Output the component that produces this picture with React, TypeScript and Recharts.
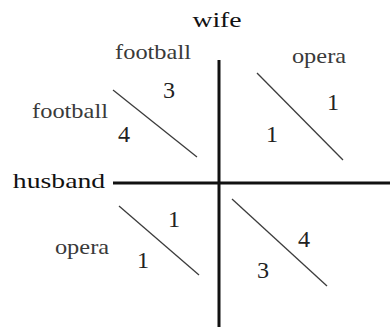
import { ReferenceLine, Scatter, ScatterChart, XAxis, YAxis } from "recharts";

// diagram coordinates: origin where the husband / wife axes cross, y up
const axisSegments = [
  { id: "wife", from: { x: 0, y: 123 }, to: { x: 0, y: -144 } },
  { id: "husband", from: { x: -106, y: 0 }, to: { x: 171, y: 0 } },
];

const cellDiagonals = [
  { id: "ff", from: { x: -106, y: 93 }, to: { x: -22, y: 26 } },
  { id: "fo", from: { x: 38, y: 110 }, to: { x: 124, y: 23 } },
  { id: "of", from: { x: -100, y: -23 }, to: { x: -20, y: -92 } },
  { id: "oo", from: { x: 13, y: -16 }, to: { x: 108, y: -103 } },
];

const playerNames = [
  { text: "wife", x: -2, y: 156 },
  { text: "husband", x: -160, y: -5 },
];

const strategyLabels = [
  { text: "football", x: -66, y: 124 },
  { text: "opera", x: 100, y: 120 },
  { text: "football", x: -149, y: 65 },
  { text: "opera", x: -137, y: -71 },
];

const payoffs = [
  { text: "3", x: -50, y: 85 },
  { text: "4", x: -95, y: 41 },
  { text: "1", x: 114, y: 73 },
  { text: "1", x: 53, y: 41 },
  { text: "1", x: -45, y: -44 },
  { text: "1", x: -76, y: -85 },
  { text: "4", x: 85, y: -64 },
  { text: "3", x: 44, y: -95 },
];

const serif = "'Liberation Serif', 'Times New Roman', serif";

function makeLabel(fontSize: number, stretch: number, fill: string) {
  return (props: any) => {
    const { cx, cy, payload } = props;
    return (
      <text
        transform={`translate(${cx},${cy}) scale(${stretch},1)`}
        textAnchor="middle"
        fontFamily={serif}
        fontSize={fontSize}
        fill={fill}
      >
        {payload.text}
      </text>
    );
  };
}

export default function App() {
  return (
    <div style={{ position: "absolute", left: 0, top: 0, width: 390, height: 327, background: "#fff" }}>
      <ScatterChart width={390} height={327} margin={{ top: 0, right: 0, bottom: 0, left: 0 }}>
        <XAxis type="number" dataKey="x" domain={[-219, 171]} hide />
        <YAxis type="number" dataKey="y" domain={[-144, 183]} hide />
        {cellDiagonals.map((s) => (
          <ReferenceLine key={s.id} segment={[s.from, s.to]} stroke="#3c3c3c" strokeWidth={1.3} />
        ))}
        {axisSegments.map((s) => (
          <ReferenceLine key={s.id} segment={[s.from, s.to]} stroke="#111" strokeWidth={3} />
        ))}
        <Scatter data={playerNames} shape={makeLabel(22, 1.26, "#111")} isAnimationActive={false} />
        <Scatter data={strategyLabels} shape={makeLabel(20, 1.22, "#3a3a3a")} isAnimationActive={false} />
        <Scatter data={payoffs} shape={makeLabel(23, 1.05, "#222")} isAnimationActive={false} />
      </ScatterChart>
    </div>
  );
}
